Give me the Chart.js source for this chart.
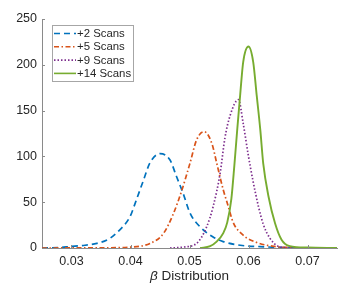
<!DOCTYPE html>
<html>
<head>
<meta charset="utf-8">
<script src="https://cdn.jsdelivr.net/npm/chart.js@4"></script>
<style>
  html, body { margin: 0; padding: 0; background: #fff; }
  #wrap { width: 351px; height: 286px; position: relative; }
</style>
</head>
<body>
<div id="wrap"><canvas id="betaChart"></canvas></div>
<script>
const seriesLabels = ["+2 Scans", "+5 Scans", "+9 Scans", "+14 Scans"];
const xTicks = [0.03, 0.04, 0.05, 0.06, 0.07];
const yTicks = [0, 50, 100, 150, 200, 250];

const scans2X = [0.025, 0.028, 0.0297, 0.0323, 0.0343, 0.0365, 0.0379, 0.0399, 0.0408, 0.0422, 0.0433, 0.045, 0.0467, 0.0478, 0.0489, 0.0501, 0.0518, 0.054, 0.0557, 0.0586, 0.062, 0.066, 0.070, 0.075];
const scans2Y = [0, 0.5, 1.5, 3, 5, 10.5, 18, 34, 49, 74, 93, 103, 96, 78, 60, 38, 23, 12, 7, 3, 1.5, 0.5, 0.1, 0];

const scans5X = [0.025, 0.035, 0.040, 0.0433, 0.0456, 0.0473, 0.0487, 0.0501, 0.0512, 0.0525, 0.0538, 0.0546, 0.0557, 0.0565, 0.0574, 0.0591, 0.0614, 0.064, 0.067, 0.075];
const scans5Y = [0, 0.2, 1, 5, 16, 38, 63, 93, 118, 127, 114, 93, 64, 47, 28, 14, 6, 2, 0.5, 0];

const scans9X = [0.0467, 0.049, 0.0512, 0.0529, 0.054, 0.0552, 0.056, 0.0569, 0.0583, 0.0591, 0.060, 0.0608, 0.0617, 0.0625, 0.0636, 0.065, 0.067, 0.075];
const scans9Y = [0, 1, 5, 23, 45, 82, 120, 145, 162, 136, 100, 72, 45, 26, 11, 2, 0.3, 0];

const scans14X = [0.0518, 0.0535, 0.0546, 0.0557, 0.0564, 0.0571, 0.0576, 0.0581, 0.0586, 0.0591, 0.060, 0.0608, 0.0614, 0.062, 0.0625, 0.0634, 0.0645, 0.0656, 0.067, 0.070, 0.075];
const scans14Y = [0, 2, 7, 16, 28, 54, 90, 130, 168, 203, 220, 203, 166, 129, 92, 56, 27, 9, 2, 0.5, 0];

const lineColors = ["#0072BD", "#D95319", "#7E2F8E", "#77AC30"];
const lineDashes = [[6, 4], [5, 2.5, 1.5, 2.5], [1.5, 2], []];
const fontFamily = "'Liberation Sans', Arial, Helvetica, sans-serif";

function toPoints(xs, ys) {
  return xs.map((x, i) => ({ x: x, y: ys[i] }));
}

const seriesData = [
  toPoints(scans2X, scans2Y),
  toPoints(scans5X, scans5Y),
  toPoints(scans9X, scans9Y),
  toPoints(scans14X, scans14Y),
];

// inward tick marks, legend box and x-axis title
const matlabLook = {
  id: "matlabLook",
  afterDraw(chart) {
    const ctx = chart.ctx;
    const area = chart.chartArea;
    const xs = chart.scales.x;
    const ys = chart.scales.y;

    ctx.save();
    ctx.strokeStyle = "#8a8a8a";
    ctx.lineWidth = 1;
    ctx.beginPath();
    xTicks.forEach((v) => {
      const px = Math.round(xs.getPixelForValue(v)) + 0.5;
      ctx.moveTo(px, area.bottom);
      ctx.lineTo(px, area.bottom - 3);
    });
    yTicks.forEach((v) => {
      const py = Math.round(ys.getPixelForValue(v)) + 0.5;
      ctx.moveTo(area.left, py);
      ctx.lineTo(area.left + 3, py);
    });
    ctx.stroke();

    // legend
    const lx = 52.5, ly = 25.5, lw = 81, lh = 56;
    ctx.fillStyle = "#fff";
    ctx.fillRect(lx, ly, lw, lh);
    ctx.strokeStyle = "#a6a6a6";
    ctx.strokeRect(lx, ly, lw, lh);
    ctx.font = "11.4px " + fontFamily;
    ctx.textBaseline = "middle";
    ctx.textAlign = "left";
    seriesLabels.forEach((label, i) => {
      const cy = 33.5 + i * 13.3;
      ctx.beginPath();
      ctx.setLineDash(lineDashes[i]);
      ctx.strokeStyle = lineColors[i];
      ctx.lineWidth = 1.6;
      ctx.moveTo(54, cy);
      ctx.lineTo(76, cy);
      ctx.stroke();
      ctx.setLineDash([]);
      ctx.fillStyle = "#262626";
      ctx.fillText(label, 77, cy + 0.5);
    });

    // x title with italic beta
    const cx = (area.left + area.right) / 2;
    const ty = 276;
    const betaFont = "italic 13.5px " + fontFamily;
    const restFont = "13.5px " + fontFamily;
    ctx.font = betaFont;
    const wb = ctx.measureText("\u03B2").width;
    ctx.font = restFont;
    const wr = ctx.measureText(" Distribution").width;
    let sx = cx - (wb + wr) / 2;
    ctx.fillStyle = "#262626";
    ctx.font = betaFont;
    ctx.fillText("\u03B2", sx, ty);
    ctx.font = restFont;
    ctx.fillText(" Distribution", sx + wb, ty);
    ctx.restore();
  },
};

new Chart(document.getElementById("betaChart"), {
  type: "line",
  data: {
    datasets: seriesData.map((pts, i) => ({
      label: seriesLabels[i],
      data: pts,
      borderColor: lineColors[i],
      borderDash: lineDashes[i],
      borderWidth: i === 3 ? 1.9 : 1.7,
      pointRadius: 0,
      fill: false,
      cubicInterpolationMode: "monotone",
      order: 3 - i,
    })),
  },
  options: {
    responsive: true,
    maintainAspectRatio: false,
    animation: false,
    events: [],
    layout: { padding: { top: 19, right: 14, left: 0, bottom: 0 } },
    plugins: {
      legend: { display: false },
      tooltip: { enabled: false },
    },
    scales: {
      x: {
        type: "linear",
        min: 0.025,
        max: 0.075,
        grid: { display: false, drawTicks: false },
        border: { display: true, color: "#8a8a8a", width: 1 },
        afterBuildTicks: (scale) => {
          scale.ticks = xTicks.map((v) => ({ value: v }));
        },
        afterFit: (scale) => {
          scale.height = 38;
        },
        ticks: {
          color: "#262626",
          font: { size: 12.5, family: fontFamily },
          padding: 6,
          maxRotation: 0,
          callback: (value) => value.toFixed(2),
        },
      },
      y: {
        min: 0,
        max: 250,
        grid: { display: false, drawTicks: false },
        border: { display: true, color: "#8a8a8a", width: 1 },
        afterBuildTicks: (scale) => {
          scale.ticks = yTicks.map((v) => ({ value: v }));
        },
        afterFit: (scale) => {
          scale.width = 42;
        },
        ticks: {
          color: "#262626",
          font: { size: 12.5, family: fontFamily },
          padding: 5,
          callback: (value) => String(value),
        },
      },
    },
  },
  plugins: [matlabLook],
});
</script>
</body>
</html>
